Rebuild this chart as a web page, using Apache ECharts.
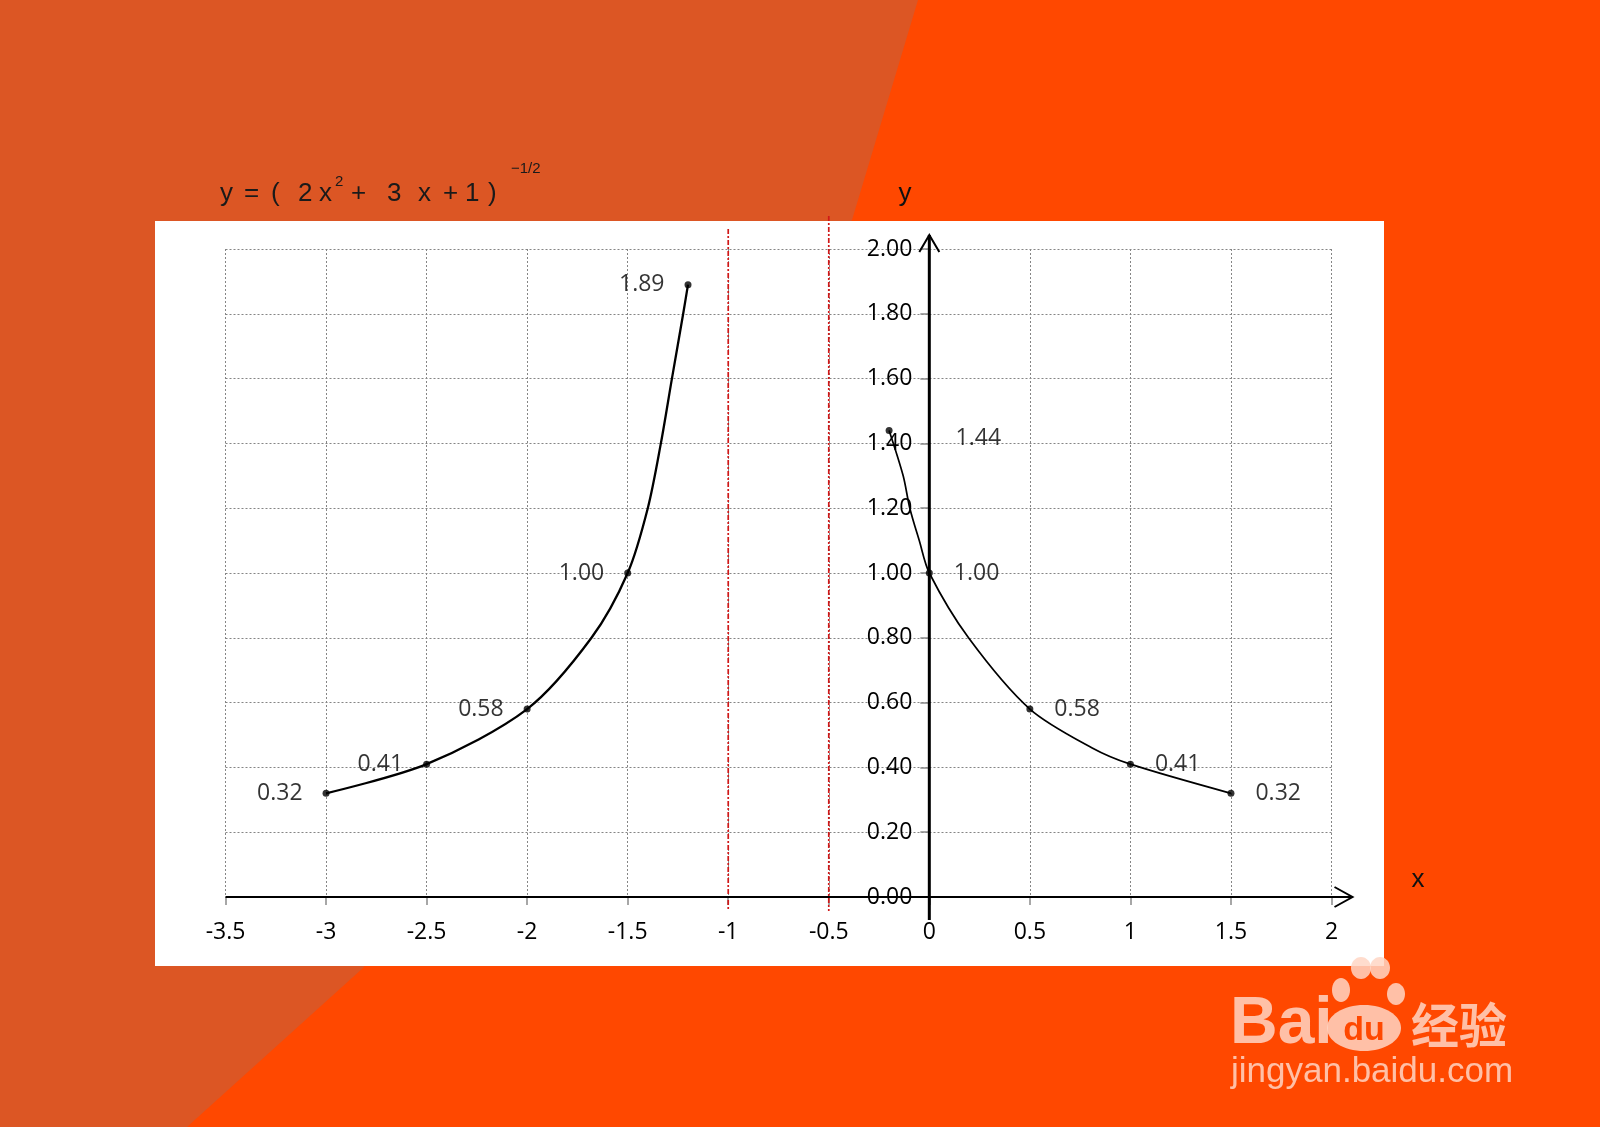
<!DOCTYPE html>
<html><head><meta charset="utf-8">
<script src="https://cdn.jsdelivr.net/npm/echarts@6/dist/echarts.min.js"></script>
<style>html,body{margin:0;padding:0;overflow:hidden}#c{width:1600px;height:1127px}</style>
</head><body><div id="c"></div>
<script>
// ---- data ----
const leftPointsX  = [-3, -2.5, -2, -1.5, -1.2];
const leftPointsY  = [0.32, 0.41, 0.58, 1.00, 1.89];
const rightPointsX = [-0.2, 0, 0.5, 1, 1.5];
const rightPointsY = [1.44, 1.00, 0.58, 0.41, 0.32];
const leftCurveX   = [-3, -2.5, -2, -1.68, -1.5, -1.40, -1.335, -1.28, -1.224, -1.2];
const leftCurveY   = [0.32, 0.41, 0.58, 0.80, 1.00, 1.20, 1.40, 1.60, 1.80, 1.89];
const rightCurveX  = [-0.2, -0.13, -0.097, -0.05, 0, 0.195, 0.5, 0.81, 1, 1.5];
const rightCurveY  = [1.44, 1.30, 1.20, 1.10, 1.00, 0.80, 0.58, 0.46, 0.41, 0.32];
const asymptotes   = [-1, -0.5];
const xRange = [-3.5, 2], xStep = 0.5;
const yRange = [0, 2], yStep = 0.2;

const FONT = "'Open Sans', sans-serif";
const zip = (a, b) => a.map((v, i) => [v, b[i]]);
const chart = echarts.init(document.getElementById('c'), null, {renderer: 'canvas'});
const gridStyle = {color: '#858585', width: 1, type: [2, 2]};
const GRID_LEFT = 225.5;

const option = {
  backgroundColor: '#FF4800',
  animation: false,
  grid: {left: GRID_LEFT, right: 268.5, top: 249, bottom: 230, containLabel: false},
  xAxis: {
    type: 'value', min: xRange[0], max: xRange[1], interval: xStep,
    axisLine: {show: true, onZero: true, lineStyle: {color: 'rgba(0,0,0,0)'}},
    axisTick: {show: true, length: 8, lineStyle: {color: '#8a8a8a', width: 1.5}},
    axisLabel: {margin: 24, fontSize: 23, fontFamily: FONT, color: '#000'},
    splitLine: {show: true, lineStyle: gridStyle}
  },
  yAxis: {
    type: 'value', min: yRange[0], max: yRange[1], interval: yStep,
    axisLine: {show: true, onZero: false, lineStyle: {color: 'rgba(0,0,0,0)'}},
    axisTick: {show: true, length: 9, lineStyle: {color: '#8a8a8a', width: 1.5}},
    axisLabel: {margin: 17, fontSize: 23, fontFamily: FONT, color: '#000',
      formatter: v => v.toFixed(2)},
    splitLine: {show: true, lineStyle: gridStyle}
  },
  series: [
    {type: 'line', data: zip(leftCurveX, leftCurveY), smooth: 0.3, showSymbol: false,
     lineStyle: {color: '#000', width: 2.3}, z: 3},
    {type: 'line', data: zip(rightCurveX, rightCurveY), smooth: 0.3, showSymbol: false,
     lineStyle: {color: '#000', width: 1.7}, z: 3},
    {type: 'scatter', data: zip(leftPointsX, leftPointsY), symbolSize: 7,
     itemStyle: {color: '#000'}, z: 4,
     label: {show: true, position: 'left', distance: 20, fontSize: 23, fontFamily: FONT,
       color: '#000', formatter: p => p.value[1].toFixed(2)}},
    {type: 'scatter', symbolSize: 7, itemStyle: {color: '#000'}, z: 4,
     data: zip(rightPointsX, rightPointsY).map((v, i) => i === 0
        ? {value: v, label: {distance: 63, offset: [0, 8]}} : {value: v}),
     label: {show: true, position: 'right', distance: 21, fontSize: 23, fontFamily: FONT,
       color: '#000', formatter: p => p.value[1].toFixed(2)}}
  ]
};
chart.setOption(option);

const px = (x, y) => chart.convertToPixel({gridIndex: 0}, [x, y]);
const o = px(0, 0);
// move the y axis (labels + ticks) onto x = 0
chart.setOption({yAxis: {offset: GRID_LEFT - o[0]}});

const xL = px(xRange[0], 0);
const xR = px(xRange[1], 0);
const yT = px(0, yRange[1]);
const xTip = xR[0] + 21, yTip = yT[1] - 14;

const g = [];
// background
g.push({type: 'polygon', z: -30, silent: true,
  shape: {points: [[0,0],[918,0],[852,220],[700,470],[540,740],[363,968],[187,1127],[0,1127]]},
  style: {fill: '#DC5624'}});
g.push({type: 'rect', z: -29, silent: true, shape: {x: 155, y: 221, width: 1229, height: 745},
  style: {fill: '#ffffff'}});
// axes
g.push({type: 'line', z: 5, shape: {x1: xL[0], y1: o[1], x2: xTip, y2: o[1]},
  style: {stroke: '#000', lineWidth: 2}});
g.push({type: 'polyline', z: 5, shape: {points: [[xTip - 18, o[1] - 10], [xTip, o[1]], [xTip - 18, o[1] + 10]]},
  style: {stroke: '#000', lineWidth: 2, fill: null}});
g.push({type: 'line', z: 5, shape: {x1: o[0], y1: o[1] + 23, x2: o[0], y2: yTip},
  style: {stroke: '#000', lineWidth: 3}});
g.push({type: 'polyline', z: 5, shape: {points: [[o[0] - 10, yTip + 17], [o[0], yTip], [o[0] + 10, yTip + 17]]},
  style: {stroke: '#000', lineWidth: 2, fill: null}});
// asymptotes
asymptotes.forEach((a, i) => {
  const p = px(a, 0);
  g.push({type: 'line', z: 2, shape: {x1: p[0], y1: yT[1] - (i === 0 ? 20 : 33), x2: p[0], y2: o[1] + 14},
    style: {stroke: '#D01818', lineWidth: 1.7, lineDash: [5, 2, 2, 2]}});
});
// axis names
g.push({type: 'text', z: 10, style: {text: 'y', x: 905, y: 194, fontSize: 26, fontFamily: 'Liberation Sans',
  fill: '#111', align: 'center', verticalAlign: 'middle'}});
g.push({type: 'text', z: 10, style: {text: 'x', x: 1418, y: 880, fontSize: 26, fontFamily: 'Liberation Sans',
  fill: '#111', align: 'center', verticalAlign: 'middle'}});
// formula title
const tokens = [['y',220],['=',244],['(',271],['2',298],['x',319],['+',351],['3',387],['x',418],['+',443],['1',465],[')',488]];
tokens.forEach(t => g.push({type: 'text', z: 10, style: {text: t[0], x: t[1], y: 194, fontSize: 26,
  fontFamily: 'Liberation Sans', fill: '#1a1a1a', align: 'left', verticalAlign: 'middle'}}));
g.push({type: 'text', z: 10, style: {text: '2', x: 335, y: 182, fontSize: 15, fontFamily: 'Liberation Sans',
  fill: '#1a1a1a', verticalAlign: 'middle'}});
g.push({type: 'text', z: 10, style: {text: '\u22121/2', x: 511, y: 169, fontSize: 15, fontFamily: 'Liberation Sans',
  fill: '#1a1a1a', verticalAlign: 'middle'}});
// watermark
const wm = 'rgba(255,214,196,0.85)';
[[1364,1028,37,23],[1341,990,9,12],[1361,968,10,11],[1380,968,10,11],[1396,994,9,11]].forEach(e =>
  g.push({type: 'ellipse', z: 10, shape: {cx: e[0], cy: e[1], rx: e[2], ry: e[3]}, style: {fill: wm}}));
g.push({type: 'text', z: 11, style: {text: 'du', x: 1364, y: 1031, fontSize: 34, fontWeight: 'bold',
  fontFamily: 'Liberation Sans', fill: '#FF4800', align: 'center', verticalAlign: 'middle'}});
g.push({type: 'text', z: 10, style: {text: 'Bai', x: 1230, y: 1025, fontSize: 66, fontWeight: 'bold',
  fontFamily: 'Liberation Sans', fill: wm, align: 'left', verticalAlign: 'middle'}});
g.push({type: 'text', z: 10, style: {text: '经验', x: 1411, y: 1025, fontSize: 48, fontWeight: 'bold',
  fontFamily: "'Noto Sans CJK SC'", fill: wm, align: 'left', verticalAlign: 'middle'}});
g.push({type: 'text', z: 10, style: {text: 'jingyan.baidu.com', x: 1231, y: 1072, fontSize: 35,
  fontFamily: 'Liberation Sans', fill: wm, align: 'left', verticalAlign: 'middle'}});

chart.setOption({graphic: {elements: g}});
</script></body></html>
